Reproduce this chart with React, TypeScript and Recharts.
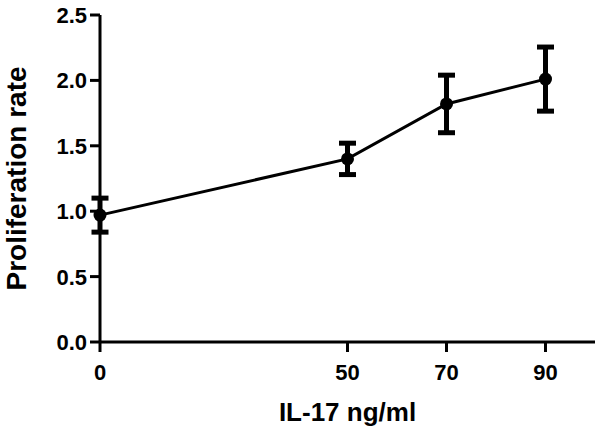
import { LineChart, Line, XAxis, YAxis, ErrorBar } from "recharts";

const doses = [0, 50, 70, 90];
const means = [0.97, 1.4, 1.82, 2.01];
const errors = [0.13, 0.12, 0.22, 0.245];
const xTicks = [0, 50, 70, 90];
const yTicks = [0, 0.5, 1.0, 1.5, 2.0, 2.5];

const data = doses.map((d, i) => ({ dose: d, rate: means[i], err: errors[i] }));

const font = "'Liberation Sans', Arial, Helvetica, sans-serif";

const XTick = (props: any) => {
  const { x, y, payload } = props;
  return (
    <text x={x} y={y} dy="0.71em" textAnchor="middle" fill="#000"
      fontSize={22} fontWeight={700} fontFamily={font}>
      {payload.value}
    </text>
  );
};

const YTick = (props: any) => {
  const { x, y, payload } = props;
  return (
    <text x={x} y={y} dy="0.36em" textAnchor="end" fill="#000"
      fontSize={22} fontWeight={700} fontFamily={font}>
      {Number(payload.value).toFixed(1)}
    </text>
  );
};

export default function App() {
  return (
    <div style={{ position: "absolute", left: 0, top: 0, background: "#fff" }}>
      <LineChart
        width={602}
        height={437}
        data={data}
        margin={{ top: 15, right: 7, bottom: 0, left: 0 }}
      >
        <XAxis
          dataKey="dose"
          type="number"
          domain={[0, 100]}
          ticks={xTicks}
          height={95}
          tick={<XTick />}
          tickSize={10}
          tickMargin={12}
          axisLine={{ stroke: "#000", strokeWidth: 3 }}
          tickLine={{ stroke: "#000", strokeWidth: 3 }}
          label={{
            value: "IL-17 ng/ml",
            position: "insideBottom",
            offset: 16,
            style: { fill: "#000", fontSize: 26, fontWeight: 700, fontFamily: font }
          }}
        />
        <YAxis
          type="number"
          domain={[0, 2.5]}
          ticks={yTicks}
          width={100}
          tick={<YTick />}
          tickSize={10}
          tickMargin={3}
          axisLine={{ stroke: "#000", strokeWidth: 3 }}
          tickLine={{ stroke: "#000", strokeWidth: 3 }}
          label={{
            value: "Proliferation rate",
            angle: -90,
            position: "insideLeft",
            offset: 16,
            style: { textAnchor: "middle", fill: "#000", fontSize: 28, fontWeight: 700, fontFamily: font }
          }}
        />
        <Line
          type="linear"
          dataKey="rate"
          stroke="#000"
          strokeWidth={3}
          dot={{ r: 6.5, fill: "#000", stroke: "#000", strokeWidth: 0 }}
          activeDot={false}
          isAnimationActive={false}
        >
          <ErrorBar dataKey="err" direction="y" width={8.5} stroke="#000" strokeWidth={5} />
        </Line>
      </LineChart>
    </div>
  );
}
